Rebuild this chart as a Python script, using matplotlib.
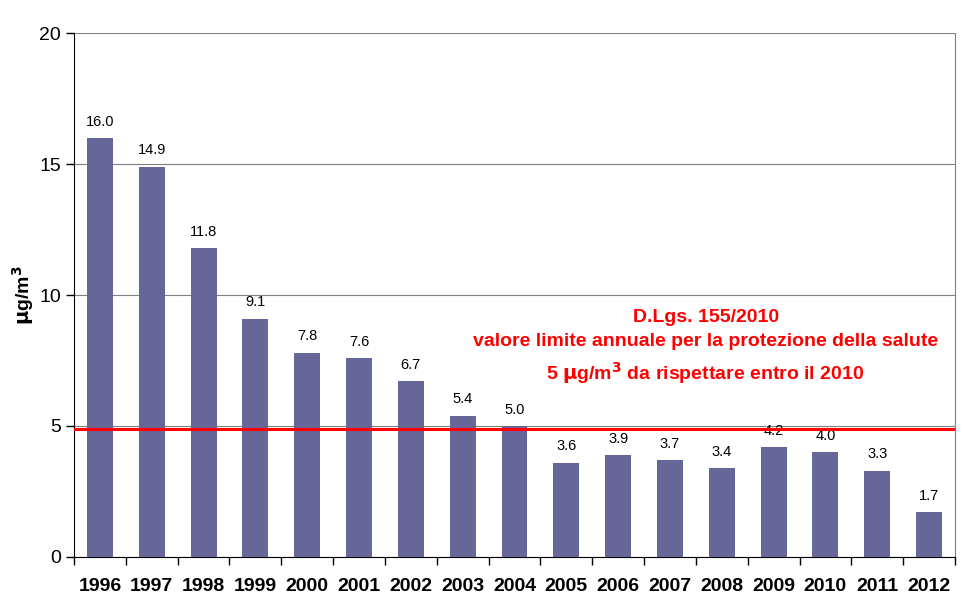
import numpy as np
import matplotlib.pyplot as plt

years = ['1996', '1997', '1998', '1999', '2000', '2001', '2002', '2003', '2004',
         '2005', '2006', '2007', '2008', '2009', '2010', '2011', '2012']
values = [16.0, 14.9, 11.8, 9.1, 7.8, 7.6, 6.7, 5.4, 5.0,
          3.6, 3.9, 3.7, 3.4, 4.2, 4.0, 3.3, 1.7]
limit = 4.9
yticks = [0, 5, 10, 15, 20]

plt.rcParams['font.family'] = ['Liberation Sans', 'DejaVu Sans']

fig = plt.figure(figsize=(9.7, 6.06), dpi=100)
ax = fig.add_axes([0.0763, 0.0809, 0.9082, 0.8646])

x = np.arange(len(years))
ax.bar(x, values, width=0.5, color='#666699', zorder=3)
for xi, v in zip(x, values):
    ax.text(xi, v + 0.35, f'{v:.1f}', ha='center', va='bottom', fontsize=10.5)

ax.axhline(limit, color='#ff0000', lw=2.2, zorder=4)

ax.set_xlim(-0.5, len(years) - 0.5)
ax.set_ylim(0, 20)
ax.set_yticks(yticks)
ax.tick_params(axis='y', labelsize=14, direction='out', length=6, width=1)
ax.yaxis.grid(True, color='#808080', lw=0.8, zorder=0)

ax.set_xticks(x)
ax.set_xticklabels(years, fontsize=14, fontweight='bold')
ax.tick_params(axis='x', length=0, pad=15)
ax.set_xticks(np.arange(len(years) + 1) - 0.5, minor=True)
ax.tick_params(axis='x', which='minor', direction='out', length=6, width=1)

ax.spines['top'].set_visible(False)
ax.spines['right'].set_color('#808080')
ax.spines['left'].set_color('black')
ax.spines['bottom'].set_color('black')

ax.set_ylabel('$\\mathbf{\\mu}$g/m$^\\mathbf{3}$', fontsize=14, fontweight='bold', labelpad=2)

ax.text(0.717, 0.40, 'D.Lgs. 155/2010\nvalore limite annuale per la protezione della salute\n5 $\\mathbf{\\mu}$g/m$^\\mathbf{3}$ da rispettare entro il 2010',
        transform=ax.transAxes, ha='center', va='center', color='#ff0000',
        fontsize=14, fontweight='bold', linespacing=1.5)

fig.savefig('out.png', dpi=100)
